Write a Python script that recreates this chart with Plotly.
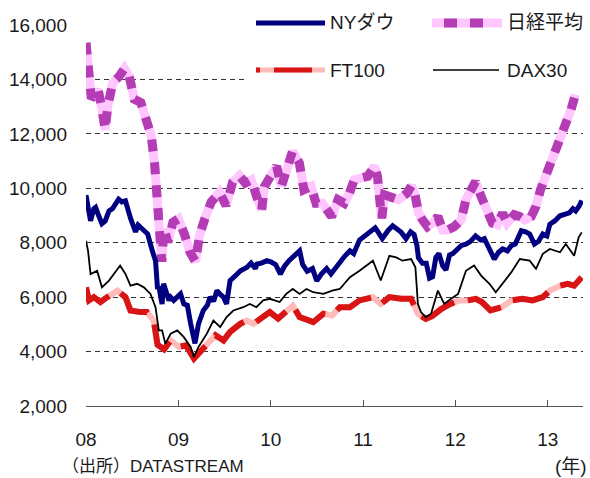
import plotly.graph_objects as go

# ---- data: index levels read per date ----
dow_dates = [
    "2008-01-01", "2008-01-08", "2008-01-19", "2008-02-01", "2008-02-08", "2008-02-20",
    "2008-03-04", "2008-03-17", "2008-04-01", "2008-04-15", "2008-05-01", "2008-05-09",
    "2008-05-22", "2008-06-05", "2008-06-25", "2008-07-07", "2008-07-15", "2008-07-25",
    "2008-08-04", "2008-08-23", "2008-09-01", "2008-09-19", "2008-10-02", "2008-10-10",
    "2008-10-15", "2008-10-28", "2008-11-03", "2008-11-24", "2008-12-01", "2008-12-13",
    "2009-01-09", "2009-01-22", "2009-02-05", "2009-02-18", "2009-03-07", "2009-03-21",
    "2009-04-09", "2009-04-25", "2009-05-06", "2009-05-20", "2009-06-02", "2009-06-15",
    "2009-06-28", "2009-07-10", "2009-07-24", "2009-08-10", "2009-08-25", "2009-09-03",
    "2009-09-29", "2009-10-15", "2009-11-01", "2009-11-08", "2009-11-25", "2009-12-16",
    "2010-01-01", "2010-01-20", "2010-02-08", "2010-02-25", "2010-03-15", "2010-04-01",
    "2010-04-25", "2010-05-07", "2010-05-25", "2010-06-15", "2010-07-02", "2010-07-20",
    "2010-08-10", "2010-08-27", "2010-09-15", "2010-10-01", "2010-10-20", "2010-11-10",
    "2010-11-25", "2010-12-18", "2011-01-10", "2011-01-28", "2011-02-18", "2011-03-01",
    "2011-03-18", "2011-04-10", "2011-04-28", "2011-05-15", "2011-06-01", "2011-06-20",
    "2011-07-08", "2011-07-22", "2011-08-02", "2011-08-08", "2011-08-24", "2011-09-08",
    "2011-09-21", "2011-10-03", "2011-10-16", "2011-10-28", "2011-11-12", "2011-11-25",
    "2011-12-09", "2011-12-22", "2012-01-04", "2012-01-25", "2012-02-12", "2012-03-01",
    "2012-03-21", "2012-04-10", "2012-04-25", "2012-05-15", "2012-06-03", "2012-06-20",
    "2012-07-06", "2012-07-25", "2012-08-09", "2012-08-25", "2012-09-18", "2012-10-05",
    "2012-10-21", "2012-11-09", "2012-11-25", "2012-12-12", "2012-12-28", "2013-01-09",
    "2013-01-28", "2013-02-18", "2013-03-05", "2013-03-27", "2013-04-10", "2013-04-21",
    "2013-05-05", "2013-05-15",
]
dow_vals = [
    9750, 9450, 8800, 9250, 9300, 9000,
    8700, 8800, 9170, 9250, 9500, 9600,
    9500, 9540, 8900, 8560, 8400, 8650,
    8560, 8380, 8320, 7710, 7340, 6300,
    6400, 5750, 6490, 5880, 6000, 5880,
    6120, 5750, 5700, 5020, 4300, 5020,
    5510, 5700, 6000, 5850, 6240, 6100,
    6000, 5750, 6610, 6750, 6900, 6970,
    7100, 7250, 7050, 7220, 7250, 7340,
    7300, 7200, 6850, 7150, 7350, 7500,
    7700, 7200, 6950, 7050, 6600, 6850,
    7050, 6850, 7100, 7300, 7500, 7700,
    7600, 8100, 8250, 8400, 8550, 8400,
    8150, 8450, 8620, 8500, 8380, 8150,
    8400, 8300, 7900, 7450, 7250, 7250,
    6700, 6750, 7460, 7600, 7150, 7000,
    7550, 7600, 7710, 7900, 7950, 8050,
    8250, 8100, 8150, 7770, 7400, 7650,
    7770, 7700, 7890, 7950, 8440, 8400,
    8320, 7950, 8050, 8320, 8250, 8680,
    8800, 8990, 9050, 9100, 9250, 9170,
    9350, 9550,
]

nikkei_dates = [
    "2008-01-01", "2008-01-10", "2008-01-22", "2008-02-01", "2008-02-18", "2008-03-02",
    "2008-03-17", "2008-03-27", "2008-04-16", "2008-05-12", "2008-06-01", "2008-06-20",
    "2008-07-10", "2008-08-05", "2008-08-25", "2008-09-15", "2008-09-28", "2008-10-07",
    "2008-10-17", "2008-10-27", "2008-11-04", "2008-11-20", "2008-12-10", "2009-01-01",
    "2009-01-26", "2009-02-15", "2009-03-09", "2009-03-25", "2009-04-15", "2009-05-10",
    "2009-06-12", "2009-07-08", "2009-08-03", "2009-08-30", "2009-09-22", "2009-10-16",
    "2009-11-06", "2009-11-26", "2009-12-07", "2010-01-04", "2010-01-24", "2010-02-12",
    "2010-03-03", "2010-03-28", "2010-04-24", "2010-05-12", "2010-06-09", "2010-06-29",
    "2010-07-24", "2010-08-20", "2010-08-30", "2010-09-24", "2010-10-18", "2010-11-08",
    "2010-11-27", "2010-12-24", "2011-01-20", "2011-02-15", "2011-02-27", "2011-03-12",
    "2011-03-16", "2011-03-27", "2011-04-24", "2011-05-21", "2011-06-24", "2011-07-12",
    "2011-07-25", "2011-08-08", "2011-08-24", "2011-09-13", "2011-10-03", "2011-10-24",
    "2011-11-12", "2011-12-01", "2011-12-27", "2012-01-24", "2012-02-12", "2012-03-03",
    "2012-03-21", "2012-04-12", "2012-05-09", "2012-05-27", "2012-06-15", "2012-07-06",
    "2012-07-24", "2012-08-21", "2012-09-12", "2012-10-01", "2012-10-27", "2012-11-15",
    "2012-12-03", "2012-12-24", "2013-01-15", "2013-02-03", "2013-03-01", "2013-03-13",
    "2013-04-03", "2013-04-20",
]
nikkei_vals = [
    15350, 14400, 13300, 13390, 13630, 13020,
    12150, 13020, 13880, 14120, 14400, 14120,
    13270, 13150, 12660, 11930, 10950, 9730,
    8270, 7300, 8510, 8020, 8750, 8880,
    8270, 7660, 7300, 8270, 8880, 9490,
    9850, 9370, 10220, 10460, 10190, 10310,
    9700, 9210, 10070, 10560, 10810, 10070,
    10750, 11360, 10930, 9950, 10070, 9450,
    9450, 9150, 8960, 9580, 9450, 9820,
    10310, 10380, 10440, 10810, 10440, 9210,
    8900, 9760, 9700, 9580, 9820, 10100,
    9800, 9100, 8840, 8590, 8720, 8960,
    8470, 8470, 8590, 8840, 9580, 9950,
    10250, 9700, 9210, 8720, 8660, 9090,
    8720, 9030, 8960, 8840, 8960, 9330,
    9950, 10440, 10930, 11420, 11910, 12400,
    12900, 13450,
]

ft_dates = [
    "2008-01-01", "2008-01-13", "2008-02-01", "2008-02-27", "2008-03-25", "2008-05-04",
    "2008-06-05", "2008-06-25", "2008-08-03", "2008-08-29", "2008-09-25", "2008-10-10",
    "2008-11-05", "2008-12-01", "2009-01-03", "2009-01-30", "2009-03-03", "2009-03-29",
    "2009-05-01", "2009-05-27", "2009-06-28", "2009-07-24", "2009-09-02", "2009-09-28",
    "2009-10-24", "2009-12-02", "2009-12-28", "2010-01-30", "2010-03-03", "2010-03-29",
    "2010-04-25", "2010-06-18", "2010-07-28", "2010-09-01", "2010-10-01", "2010-11-10",
    "2010-12-18", "2011-02-09", "2011-03-12", "2011-04-15", "2011-06-01", "2011-07-10",
    "2011-08-06", "2011-09-06", "2011-10-01", "2011-11-07", "2011-12-12", "2012-01-15",
    "2012-02-19", "2012-03-22", "2012-04-15", "2012-05-19", "2012-07-02", "2012-08-10",
    "2012-09-22", "2012-11-01", "2012-12-12", "2013-01-09", "2013-02-18", "2013-03-20",
    "2013-04-15", "2013-05-15",
]
ft_vals = [
    6360, 5880, 6000, 5820, 6000, 6240,
    6000, 5510, 5450, 5450, 5140, 4250,
    4080, 4410, 4170, 4230, 3740, 3990,
    4350, 4600, 4410, 4720, 5020, 5140,
    5020, 5270, 5450, 5210, 5450, 5690,
    5270, 5080, 5390, 5330, 5630, 5630,
    5880, 6000, 5750, 6000, 5940, 5940,
    5390, 5200, 5300, 5570, 5750, 5880,
    5880, 5940, 5820, 5510, 5630, 5880,
    5940, 5880, 6000, 6240, 6420, 6490,
    6420, 6730,
]

dax_dates = [
    "2008-01-01", "2008-01-09", "2008-01-19", "2008-02-01", "2008-02-14", "2008-03-04",
    "2008-04-01", "2008-05-15", "2008-06-05", "2008-06-25", "2008-07-21", "2008-08-17",
    "2008-09-12", "2008-10-02", "2008-10-15", "2008-10-28", "2008-11-10", "2008-12-01",
    "2008-12-27", "2009-01-22", "2009-02-18", "2009-03-03", "2009-03-21", "2009-04-23",
    "2009-05-19", "2009-06-15", "2009-07-10", "2009-08-06", "2009-09-14", "2009-10-10",
    "2009-11-05", "2009-12-02", "2009-12-28", "2010-02-05", "2010-03-03", "2010-03-29",
    "2010-04-25", "2010-05-22", "2010-06-18", "2010-07-28", "2010-09-01", "2010-10-01",
    "2010-11-10", "2010-12-18", "2011-02-09", "2011-03-12", "2011-04-15", "2011-05-12",
    "2011-06-06", "2011-07-10", "2011-07-27", "2011-08-06", "2011-08-18", "2011-09-06",
    "2011-09-27", "2011-10-24", "2011-11-18", "2011-12-15", "2012-01-12", "2012-02-12",
    "2012-03-15", "2012-04-12", "2012-05-15", "2012-06-09", "2012-07-06", "2012-08-09",
    "2012-09-12", "2012-10-21", "2012-11-15", "2012-12-12", "2013-01-09", "2013-02-18",
    "2013-03-13", "2013-04-15", "2013-05-03", "2013-05-15",
]
dax_vals = [
    8070, 7710, 6850, 6910, 6970, 6360,
    6610, 7160, 6850, 6420, 6490, 6360,
    6120, 5630, 4780, 4780, 4290, 4660,
    4780, 4530, 4170, 3800, 4170, 4660,
    5140, 4900, 5270, 5510, 5630, 5750,
    5630, 5880, 5940, 5820, 6120, 6300,
    6120, 6300, 6180, 6120, 6240, 6300,
    6730, 6970, 7340, 6610, 7520, 7460,
    7340, 7400, 7100, 5750, 5450, 5270,
    5390, 6240, 5750, 5940, 6120, 6970,
    7160, 6790, 6490, 6180, 6490, 6910,
    7400, 7340, 7040, 7590, 7770, 7650,
    7950, 7520, 8200, 8380,
]

y_ticks = [2000, 4000, 6000, 8000, 10000, 12000, 14000, 16000]
x_tick_dates = ["2008-01-01", "2009-01-01", "2010-01-01", "2011-01-01", "2012-01-01", "2013-01-01"]
x_tick_labels = ["08", "09", "10", "11", "12", "13"]

# ---- styling ----
NAVY = "#000080"
NK_LIGHT = "#ffc6ff"
NK_DARK = "#b43cb4"
FT_RED = "#d81414"
FT_PINK = "#ffbaba"
FONT = "Liberation Sans, Arial, Noto Sans CJK JP, sans-serif"

W, H = 590, 478
ML, MR, MT, MB = 86, 7, 25, 72
PW, PH = W - ML - MR, H - MT - MB


def px_x(p):
    return (p - ML) / PW


def px_y(p):
    return (H - MB - p) / PH


fig = go.Figure()

# Nikkei: pink base with magenta dashes on top
fig.add_trace(go.Scatter(x=nikkei_dates, y=nikkei_vals, mode="lines",
                         line=dict(color=NK_LIGHT, width=9), showlegend=False))
fig.add_trace(go.Scatter(x=nikkei_dates, y=nikkei_vals, mode="lines",
                         line=dict(color=NK_DARK, width=9, dash="12px,11px"), showlegend=False))
# FT100: pink base with long red dashes
fig.add_trace(go.Scatter(x=ft_dates, y=ft_vals, mode="lines",
                         line=dict(color=FT_PINK, width=6), showlegend=False))
fig.add_trace(go.Scatter(x=ft_dates, y=ft_vals, mode="lines",
                         line=dict(color=FT_RED, width=6, dash="38px,14px"), showlegend=False))
# NY Dow
fig.add_trace(go.Scatter(x=dow_dates, y=dow_vals, mode="lines",
                         line=dict(color=NAVY, width=5), showlegend=False))
# DAX30
fig.add_trace(go.Scatter(x=dax_dates, y=dax_vals, mode="lines",
                         line=dict(color="#000000", width=1.8), showlegend=False))

shapes = []
# white panel behind the legend
shapes.append(dict(type="rect", xref="paper", yref="paper",
                   x0=px_x(245), x1=px_x(W + 5), y0=px_y(86), y1=px_y(-5),
                   fillcolor="white", line=dict(width=0), layer="above"))


def seg(x0, x1, yp, color, width, dash="solid"):
    shapes.append(dict(type="line", xref="paper", yref="paper",
                       x0=px_x(x0), x1=px_x(x1), y0=px_y(yp), y1=px_y(yp),
                       line=dict(color=color, width=width, dash=dash), layer="above"))


# legend samples
seg(256, 325, 23, NAVY, 5)
seg(432, 502, 23, NK_LIGHT, 9)
seg(444, 457, 23, NK_DARK, 9)
seg(470, 483, 23, NK_DARK, 9)
seg(256, 325, 70, FT_PINK, 5)
seg(256, 260, 70, FT_RED, 5)
seg(274, 312, 70, FT_RED, 5)
seg(433, 499, 70, "#000000", 1.5)

annotations = []


def label(text, xp, yp, anchor="left", size=19):
    annotations.append(dict(text=text, xref="paper", yref="paper",
                            x=px_x(xp), y=px_y(yp), xanchor=anchor, yanchor="middle",
                            showarrow=False, font=dict(size=size, color="#1a1a1a", family=FONT)))


label("NYダウ", 328, 22)
label("日経平均", 505, 22)
label("FT100", 328, 70)
label("DAX30", 505, 70)
label("（出所）DATASTREAM", 60, 466, size=17)
label("(年)", 589, 466, anchor="right")

fig.update_layout(
    width=W, height=H,
    margin=dict(l=ML, r=MR, t=MT, b=MB, pad=0),
    paper_bgcolor="white", plot_bgcolor="white",
    font=dict(family=FONT, size=19, color="#1a1a1a"),
    showlegend=False,
    shapes=shapes,
    annotations=annotations,
    xaxis=dict(
        type="date", range=["2008-01-01", "2013-05-20"],
        tickvals=x_tick_dates, ticktext=x_tick_labels,
        ticks="inside", ticklen=6, tickcolor="#555555", tickwidth=1,
        showline=True, linecolor="#555555", linewidth=1,
        showgrid=False, zeroline=False,
        tickfont=dict(size=19), ticklabelstandoff=16,
    ),
    yaxis=dict(
        range=[2000, 16000], tickvals=y_ticks, tickformat=",",
        showgrid=True, gridcolor="#333333", gridwidth=1, griddash="5px,4px",
        zeroline=False, showline=False, ticks="",
        tickfont=dict(size=19), ticklabelstandoff=18,
    ),
)

fig.write_html("out.html", config={"displayModeBar": False})
